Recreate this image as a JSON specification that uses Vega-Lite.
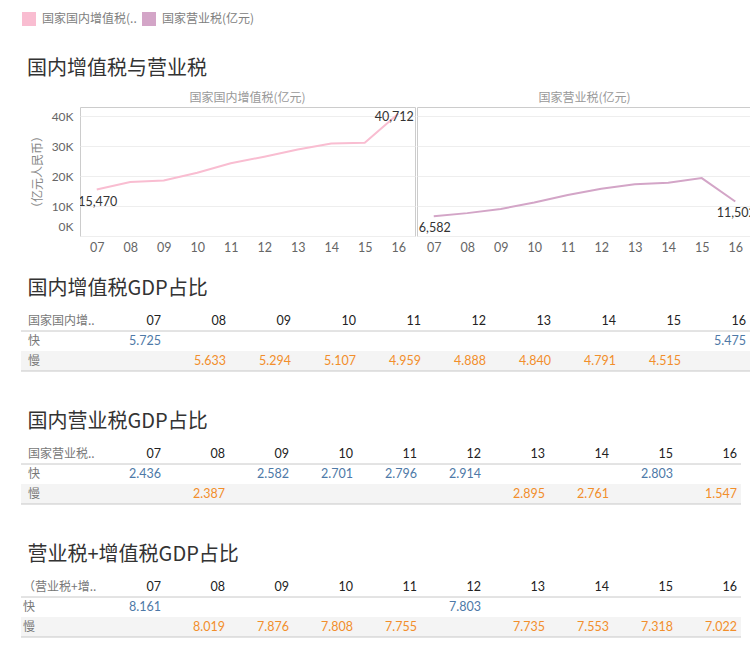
{
  "$schema": "https://vega.github.io/schema/vega-lite/v6.json",
  "padding": {"left": 20, "top": 12, "right": 0, "bottom": 0},
  "autosize": {"type": "pad"},
  "background": "white",
  "config": {
    "view": {"stroke": null},
    "font": "Lato, Noto Sans CJK SC, sans-serif",
    "title": {"fontSize": 20, "fontWeight": "normal", "color": "#333333", "anchor": "start", "font": "Noto Sans CJK SC, Lato, sans-serif"},
    "text": {"font": "Lato, Noto Sans CJK SC, sans-serif"},
    "axis": {"labelFont": "Lato, Noto Sans CJK SC, sans-serif", "titleFont": "Noto Sans CJK SC, sans-serif"},
    "header": {"labelFont": "Noto Sans CJK SC, sans-serif"},
    "legend": {"labelFont": "Noto Sans CJK SC, Lato, sans-serif"}
  },
  "datasets": {
    "tax": [
      {"series": "国家国内增值税(亿元)", "year": "07", "value": 15470},
      {"series": "国家国内增值税(亿元)", "year": "08", "value": 17997},
      {"series": "国家国内增值税(亿元)", "year": "09", "value": 18481},
      {"series": "国家国内增值税(亿元)", "year": "10", "value": 21093},
      {"series": "国家国内增值税(亿元)", "year": "11", "value": 24267},
      {"series": "国家国内增值税(亿元)", "year": "12", "value": 26416},
      {"series": "国家国内增值税(亿元)", "year": "13", "value": 28810},
      {"series": "国家国内增值税(亿元)", "year": "14", "value": 30855},
      {"series": "国家国内增值税(亿元)", "year": "15", "value": 31109},
      {"series": "国家国内增值税(亿元)", "year": "16", "value": 40712},
      {"series": "国家营业税(亿元)", "year": "07", "value": 6582},
      {"series": "国家营业税(亿元)", "year": "08", "value": 7626},
      {"series": "国家营业税(亿元)", "year": "09", "value": 9014},
      {"series": "国家营业税(亿元)", "year": "10", "value": 11158},
      {"series": "国家营业税(亿元)", "year": "11", "value": 13679},
      {"series": "国家营业税(亿元)", "year": "12", "value": 15748},
      {"series": "国家营业税(亿元)", "year": "13", "value": 17233},
      {"series": "国家营业税(亿元)", "year": "14", "value": 17782},
      {"series": "国家营业税(亿元)", "year": "15", "value": 19313},
      {"series": "国家营业税(亿元)", "year": "16", "value": 11502}
    ],
    "vat": [
      {"row": "快", "year": "07", "value": 5.725},
      {"row": "慢", "year": "08", "value": 5.633},
      {"row": "慢", "year": "09", "value": 5.294},
      {"row": "慢", "year": "10", "value": 5.107},
      {"row": "慢", "year": "11", "value": 4.959},
      {"row": "慢", "year": "12", "value": 4.888},
      {"row": "慢", "year": "13", "value": 4.840},
      {"row": "慢", "year": "14", "value": 4.791},
      {"row": "慢", "year": "15", "value": 4.515},
      {"row": "快", "year": "16", "value": 5.475}
    ],
    "bt": [
      {"row": "快", "year": "07", "value": 2.436},
      {"row": "慢", "year": "08", "value": 2.387},
      {"row": "快", "year": "09", "value": 2.582},
      {"row": "快", "year": "10", "value": 2.701},
      {"row": "快", "year": "11", "value": 2.796},
      {"row": "快", "year": "12", "value": 2.914},
      {"row": "慢", "year": "13", "value": 2.895},
      {"row": "慢", "year": "14", "value": 2.761},
      {"row": "快", "year": "15", "value": 2.803},
      {"row": "慢", "year": "16", "value": 1.547}
    ],
    "sum": [
      {"row": "快", "year": "07", "value": 8.161},
      {"row": "慢", "year": "08", "value": 8.019},
      {"row": "慢", "year": "09", "value": 7.876},
      {"row": "慢", "year": "10", "value": 7.808},
      {"row": "慢", "year": "11", "value": 7.755},
      {"row": "快", "year": "12", "value": 7.803},
      {"row": "慢", "year": "13", "value": 7.735},
      {"row": "慢", "year": "14", "value": 7.553},
      {"row": "慢", "year": "15", "value": 7.318},
      {"row": "慢", "year": "16", "value": 7.022}
    ],
    "years": [
      {"row": "表头", "year": "07"}, {"row": "表头", "year": "08"}, {"row": "表头", "year": "09"}, {"row": "表头", "year": "10"}, {"row": "表头", "year": "11"},
      {"row": "表头", "year": "12"}, {"row": "表头", "year": "13"}, {"row": "表头", "year": "14"}, {"row": "表头", "year": "15"}, {"row": "表头", "year": "16"}
    ],
    "labels1": [{"row": "表头", "col": "标签", "name": "国家国内增.."}, {"row": "快", "col": "标签", "name": "快"}, {"row": "慢", "col": "标签", "name": "慢"}],
    "labels2": [{"row": "表头", "col": "标签", "name": "国家营业税.."}, {"row": "快", "col": "标签", "name": "快"}, {"row": "慢", "col": "标签", "name": "慢"}],
    "labels3": [{"row": "表头", "col": "标签", "name": "（营业税+增.."}, {"row": "快", "col": "标签", "name": "快"}, {"row": "慢", "col": "标签", "name": "慢"}],
    "lines": [{"row": "表头"}, {"row": "慢"}],
    "band": [{"row": "慢"}]
  },
  "spacing": 25,
  "resolve": {"legend": {"color": "independent"}},
  "vconcat": [
    {
      "spacing": 0,
      "resolve": {"legend": {"color": "independent"}},
      "hconcat": [
        {"data": {"values": []}, "mark": "point", "width": 1, "height": 1},
        {
          "data": {"name": "tax"},
          "title": {"text": "国内增值税与营业税", "offset": -67, "dx": 5},
          "facet": {
            "column": {
              "field": "series", "type": "nominal",
              "sort": ["国家国内增值税(亿元)", "国家营业税(亿元)"],
              "header": {"title": null, "labelFontSize": 12, "labelColor": "#999999", "labelPadding": 1}
            }
          },
          "spacing": 0,
          "spec": {
            "width": 335,
            "height": 129,
            "view": {"stroke": "#cccccc"},
            "layer": [
              {
                "mark": {"type": "line", "strokeWidth": 2},
                "encoding": {
                  "x": {"field": "year", "type": "ordinal", "scale": {"type": "point", "padding": 0.5},
                    "axis": {"title": null, "labelAngle": 0, "labelColor": "#666666", "labelFontSize": 12.5, "ticks": false, "domain": false, "labelPadding": 4, "grid": false}},
                  "y": {"field": "value", "type": "quantitative", "scale": {"domain": [0, 43000], "nice": false},
                    "axis": {"title": "（亿元人民币）", "titleColor": "#888888", "titleFontSize": 12, "titleFontWeight": "normal", "values": [0, 10000, 20000, 30000, 40000], "tickCount": 5,
                      "labelExpr": "datum.value / 1000 + 'K'", "labelColor": "#666666", "labelFontSize": 12, "ticks": false, "domain": false, "labelOverlap": false,
                      "labelPadding": 6, "titlePadding": 7, "grid": true, "gridColor": "#eeeeee", "labelFlush": true, "labelFlushOffset": -3}},
                  "color": {"field": "series", "type": "nominal",
                    "scale": {"domain": ["国家国内增值税(亿元)", "国家营业税(亿元)"], "range": ["#f9bdd1", "#d3a5c7"]},
                    "legend": {"title": null, "orient": "none", "legendX": -58, "legendY": -95, "direction": "horizontal",
                      "symbolType": "square", "symbolSize": 4, "symbolStrokeWidth": 12, "padding": 0,
                      "labelFontSize": 12, "labelColor": "#808080", "labelOffset": 6, "columnPadding": -13,
                      "labelExpr": "datum.label == '国家国内增值税(亿元)' ? '国家国内增值税(..' : datum.label"}}
                }
              },
              {
                "transform": [{"filter": "datum.year === '07' || (datum.year === '16' && datum.series === '国家营业税(亿元)')"}],
                "mark": {"type": "text", "dy": 12, "dx": 1, "fontSize": 12.5, "color": "#333333", "clip": true},
                "encoding": {
                  "x": {"field": "year", "type": "ordinal"},
                  "y": {"field": "value", "type": "quantitative"},
                  "text": {"field": "value", "type": "quantitative", "format": ","}
                }
              },
              {
                "transform": [{"filter": "datum.year === '16' && datum.series === '国家国内增值税(亿元)'"}],
                "mark": {"type": "text", "dy": 3, "dx": -4, "fontSize": 12.5, "color": "#333333", "clip": true},
                "encoding": {
                  "x": {"field": "year", "type": "ordinal"},
                  "y": {"field": "value", "type": "quantitative"},
                  "text": {"field": "value", "type": "quantitative", "format": ","}
                }
              }
            ]
          }
        }
      ]
    },
    {
      "spacing": 40,
      "vconcat": [
        {
          "title": {"text": "国内增值税GDP占比", "offset": 12, "dx": 7},
          "width": 730, "height": 60,
          "encoding": {
            "y": {"field": "row", "type": "nominal", "scale": {"domain": ["表头", "快", "慢"], "paddingInner": 0, "paddingOuter": 0}, "axis": null}
          },
          "layer": [
            {"data": {"name": "band"}, "mark": {"type": "rect", "color": "#f4f4f4"}},
            {"data": {"name": "lines"}, "mark": {"type": "rule", "color": "#c8c8c8", "strokeWidth": 1},
              "encoding": {"y": {"field": "row", "type": "nominal", "bandPosition": 1}}},
            {
              "data": {"name": "years"},
              "mark": {"type": "text", "align": "right", "baseline": "middle", "fontSize": 12.5, "color": "#222222"},
              "encoding": {
                "x": {"field": "year", "type": "nominal", "bandPosition": 1, "scale": {"type": "band", "domain": ["标签", "07", "08", "09", "10", "11", "12", "13", "14", "15", "16"], "range": [10, 725], "paddingInner": 0, "paddingOuter": 0}, "axis": null},
                "text": {"field": "year", "type": "nominal"}
              }
            },
            {
              "data": {"name": "labels1"},
              "mark": {"type": "text", "align": "left", "baseline": "middle", "fontSize": 12, "color": "#777777", "dx": -3, "font": "Noto Sans CJK SC, sans-serif"},
              "encoding": {
                "x": {"field": "col", "type": "nominal", "bandPosition": 0, "scale": {"type": "band", "domain": ["标签", "07", "08", "09", "10", "11", "12", "13", "14", "15", "16"], "range": [10, 725], "paddingInner": 0, "paddingOuter": 0}, "axis": null},
                "text": {"field": "name", "type": "nominal"}
              }
            },
            {
              "data": {"name": "vat"},
              "mark": {"type": "text", "align": "right", "baseline": "middle", "fontSize": 12.5},
              "encoding": {
                "x": {"field": "year", "type": "nominal", "bandPosition": 1, "scale": {"type": "band", "domain": ["标签", "07", "08", "09", "10", "11", "12", "13", "14", "15", "16"], "range": [10, 725], "paddingInner": 0, "paddingOuter": 0}, "axis": null},
                "text": {"field": "value", "type": "quantitative", "format": ".3f"},
                "color": {"condition": {"test": "datum.row === '快'", "value": "#4e79a7"}, "value": "#f28e2b"}
              }
            }
          ]
        },
        {
          "title": {"text": "国内营业税GDP占比", "offset": 12, "dx": 7},
          "width": 720, "height": 60,
          "encoding": {
            "y": {"field": "row", "type": "nominal", "scale": {"domain": ["表头", "快", "慢"], "paddingInner": 0, "paddingOuter": 0}, "axis": null}
          },
          "layer": [
            {"data": {"name": "band"}, "mark": {"type": "rect", "color": "#f4f4f4"}},
            {"data": {"name": "lines"}, "mark": {"type": "rule", "color": "#c8c8c8", "strokeWidth": 1},
              "encoding": {"y": {"field": "row", "type": "nominal", "bandPosition": 1}}},
            {
              "data": {"name": "years"},
              "mark": {"type": "text", "align": "right", "baseline": "middle", "fontSize": 12.5, "color": "#222222"},
              "encoding": {
                "x": {"field": "year", "type": "nominal", "bandPosition": 1, "scale": {"type": "band", "domain": ["标签", "07", "08", "09", "10", "11", "12", "13", "14", "15", "16"], "range": [12, 716], "paddingInner": 0, "paddingOuter": 0}, "axis": null},
                "text": {"field": "year", "type": "nominal"}
              }
            },
            {
              "data": {"name": "labels2"},
              "mark": {"type": "text", "align": "left", "baseline": "middle", "fontSize": 12, "color": "#777777", "dx": -5, "font": "Noto Sans CJK SC, sans-serif"},
              "encoding": {
                "x": {"field": "col", "type": "nominal", "bandPosition": 0, "scale": {"type": "band", "domain": ["标签", "07", "08", "09", "10", "11", "12", "13", "14", "15", "16"], "range": [12, 716], "paddingInner": 0, "paddingOuter": 0}, "axis": null},
                "text": {"field": "name", "type": "nominal"}
              }
            },
            {
              "data": {"name": "bt"},
              "mark": {"type": "text", "align": "right", "baseline": "middle", "fontSize": 12.5},
              "encoding": {
                "x": {"field": "year", "type": "nominal", "bandPosition": 1, "scale": {"type": "band", "domain": ["标签", "07", "08", "09", "10", "11", "12", "13", "14", "15", "16"], "range": [12, 716], "paddingInner": 0, "paddingOuter": 0}, "axis": null},
                "text": {"field": "value", "type": "quantitative", "format": ".3f"},
                "color": {"condition": {"test": "datum.row === '快'", "value": "#4e79a7"}, "value": "#f28e2b"}
              }
            }
          ]
        },
        {
          "title": {"text": "营业税+增值税GDP占比", "offset": 12, "dx": 7},
          "width": 720, "height": 60,
          "encoding": {
            "y": {"field": "row", "type": "nominal", "scale": {"domain": ["表头", "快", "慢"], "paddingInner": 0, "paddingOuter": 0}, "axis": null}
          },
          "layer": [
            {"data": {"name": "band"}, "mark": {"type": "rect", "color": "#f4f4f4"}},
            {"data": {"name": "lines"}, "mark": {"type": "rule", "color": "#c8c8c8", "strokeWidth": 1},
              "encoding": {"y": {"field": "row", "type": "nominal", "bandPosition": 1}}},
            {
              "data": {"name": "years"},
              "mark": {"type": "text", "align": "right", "baseline": "middle", "fontSize": 12.5, "color": "#222222"},
              "encoding": {
                "x": {"field": "year", "type": "nominal", "bandPosition": 1, "scale": {"type": "band", "domain": ["标签", "07", "08", "09", "10", "11", "12", "13", "14", "15", "16"], "range": [12, 716], "paddingInner": 0, "paddingOuter": 0}, "axis": null},
                "text": {"field": "year", "type": "nominal"}
              }
            },
            {
              "data": {"name": "labels3"},
              "mark": {"type": "text", "align": "left", "baseline": "middle", "fontSize": 12, "color": "#777777", "dx": -10, "font": "Noto Sans CJK SC, sans-serif"},
              "encoding": {
                "x": {"field": "col", "type": "nominal", "bandPosition": 0, "scale": {"type": "band", "domain": ["标签", "07", "08", "09", "10", "11", "12", "13", "14", "15", "16"], "range": [12, 716], "paddingInner": 0, "paddingOuter": 0}, "axis": null},
                "text": {"field": "name", "type": "nominal"}
              }
            },
            {
              "data": {"name": "sum"},
              "mark": {"type": "text", "align": "right", "baseline": "middle", "fontSize": 12.5},
              "encoding": {
                "x": {"field": "year", "type": "nominal", "bandPosition": 1, "scale": {"type": "band", "domain": ["标签", "07", "08", "09", "10", "11", "12", "13", "14", "15", "16"], "range": [12, 716], "paddingInner": 0, "paddingOuter": 0}, "axis": null},
                "text": {"field": "value", "type": "quantitative", "format": ".3f"},
                "color": {"condition": {"test": "datum.row === '快'", "value": "#4e79a7"}, "value": "#f28e2b"}
              }
            }
          ]
        }
      ]
    }
  ]
}
